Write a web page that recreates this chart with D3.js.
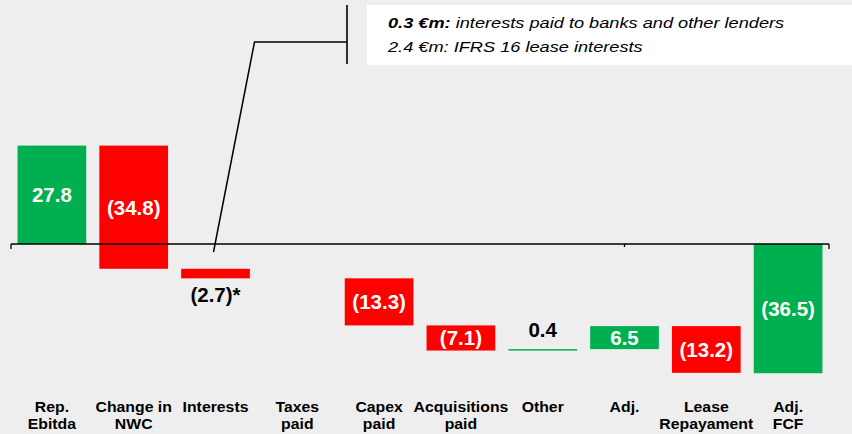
<!DOCTYPE html>
<html>
<head>
<meta charset="utf-8">
<script src="https://cdn.jsdelivr.net/npm/d3@7"></script>
<style>
  body { margin: 0; background: #eeeeee; }
  svg { display: block; }
  text { font-family: Arial, "Liberation Sans", sans-serif; }
</style>
</head>
<body>
<div id="chart"></div>
<script>
// categories (two-line labels) and step values of the bridge
var categories = [["Rep.", "Ebitda"], ["Change in", "NWC"], ["Interests"], ["Taxes", "paid"],
    ["Capex", "paid"], ["Acquisitions", "paid"], ["Other"], ["Adj."], ["Lease", "Repayament"], ["Adj.", "FCF"]];
var values = [27.8, -34.8, -2.7, 0, -13.3, -7.1, 0.4, 6.5, -13.2];
var total = -36.5;
var valueLabels = ["27.8", "(34.8)", "(2.7)*", "", "(13.3)", "(7.1)", "0.4", "6.5", "(13.2)", "(36.5)"];
var noteLines = [["0.3 €m:", " interests paid to banks and other lenders"], ["", "2.4 €m: IFRS 16 lease interests"]];

var width = 852, height = 434;
var green = "#00b050", red = "#ff0000";

var svg = d3.select("#chart").append("svg")
    .attr("width", width)
    .attr("height", height);

svg.append("rect").attr("width", width).attr("height", height).attr("fill", "#eeeeee");

// build start/end of each bar
var bars = [];
var run = 0;
values.forEach(function(v, i) {
    bars.push({i: i, start: run, end: run + v, v: v, label: valueLabels[i]});
    run += v;
});
bars.push({i: values.length, start: 0, end: total, v: total, label: valueLabels[values.length], total: true});

var x = d3.scaleBand()
    .domain(d3.range(categories.length))
    .range([11, 829])
    .paddingInner(0.16)
    .paddingOuter(0.08);

var y = d3.scaleLinear()
    .domain([-36.5, 27.8])
    .range([373.2, 145.6]);

// bars (skip zero steps)
svg.selectAll("rect.bar")
    .data(bars.filter(function(d) { return d.v !== 0; }))
    .enter().append("rect")
    .attr("class", "bar")
    .attr("x", function(d) { return x(d.i); })
    .attr("width", x.bandwidth())
    .attr("y", function(d) { return Math.min(y(d.start), y(d.end)); })
    .attr("height", function(d) { return Math.max(1.5, Math.abs(y(d.start) - y(d.end))); })
    .attr("fill", function(d) {
        if (d.total) return green;
        return d.v > 0 ? green : red;
    });

// axis line at zero
var y0 = y(0);
svg.append("line")
    .attr("x1", x.range()[0]).attr("x2", x.range()[1])
    .attr("y1", y0).attr("y2", y0)
    .attr("stroke", "#000").attr("stroke-width", 1.3);
[x.range()[0], x(7) + x.bandwidth() / 2, x.range()[1]].forEach(function(t, k) {
    svg.append("line")
        .attr("x1", t).attr("x2", t)
        .attr("y1", y0).attr("y2", y0 + (k === 1 ? 3 : 5))
        .attr("stroke", "#000").attr("stroke-width", 1.3);
});

// value labels: white inside big bars, black outside small ones
svg.selectAll("text.val")
    .data(bars.filter(function(d) { return d.label !== ""; }))
    .enter().append("text")
    .attr("class", "val")
    .attr("x", function(d) { return x(d.i) + x.bandwidth() / 2; })
    .attr("y", function(d) {
        var top = Math.min(y(d.start), y(d.end)), bot = Math.max(y(d.start), y(d.end));
        if (bot - top < 15) {
            return d.v < 0 ? bot + 16 : top - 20;
        }
        return (top + bot) / 2;
    })
    .attr("dy", "0.36em")
    .attr("text-anchor", "middle")
    .attr("font-size", "20.5px")
    .attr("font-weight", "bold")
    .attr("fill", function(d) {
        var h = Math.abs(y(d.start) - y(d.end));
        return h < 15 ? "#000" : "#fff";
    })
    .text(function(d) { return d.label; });

// category labels (slide text is a bit stretched horizontally)
var cat = svg.selectAll("text.cat")
    .data(categories)
    .enter().append("text")
    .attr("class", "cat")
    .attr("transform", function(d, i) { return "translate(" + (x(i) + x.bandwidth() / 2) + ",412) scale(1.13,1)"; })
    .attr("text-anchor", "middle")
    .attr("font-size", "14px")
    .attr("font-weight", "bold")
    .attr("fill", "#000");
cat.selectAll("tspan")
    .data(function(d) { return d; })
    .enter().append("tspan")
    .attr("x", 0)
    .attr("dy", function(d, j) { return j === 0 ? 0 : 17; })
    .text(function(d) { return d; });

// callout note for interests
var cx = x(2) + x.bandwidth() / 2 - 2;
svg.append("path")
    .attr("d", "M" + cx + "," + (y0 + 8) + "L" + (cx + 41) + ",42H347")
    .attr("fill", "none").attr("stroke", "#000").attr("stroke-width", 1.5);
svg.append("line")
    .attr("x1", 347).attr("x2", 347).attr("y1", 5).attr("y2", 64)
    .attr("stroke", "#000").attr("stroke-width", 1.6);

svg.append("rect")
    .attr("x", 367).attr("y", 5)
    .attr("width", width - 367).attr("height", 60)
    .attr("fill", "#fff");

var note = svg.selectAll("text.note")
    .data(noteLines)
    .enter().append("text")
    .attr("class", "note")
    .attr("transform", function(d, i) { return "translate(388," + (28 + i * 24) + ") scale(1.3,1)"; })
    .attr("font-size", "14px")
    .attr("font-style", "italic")
    .attr("fill", "#000");
note.append("tspan").attr("font-weight", "bold").text(function(d) { return d[0]; });
note.append("tspan").text(function(d) { return d[1]; });
</script>
</body>
</html>
